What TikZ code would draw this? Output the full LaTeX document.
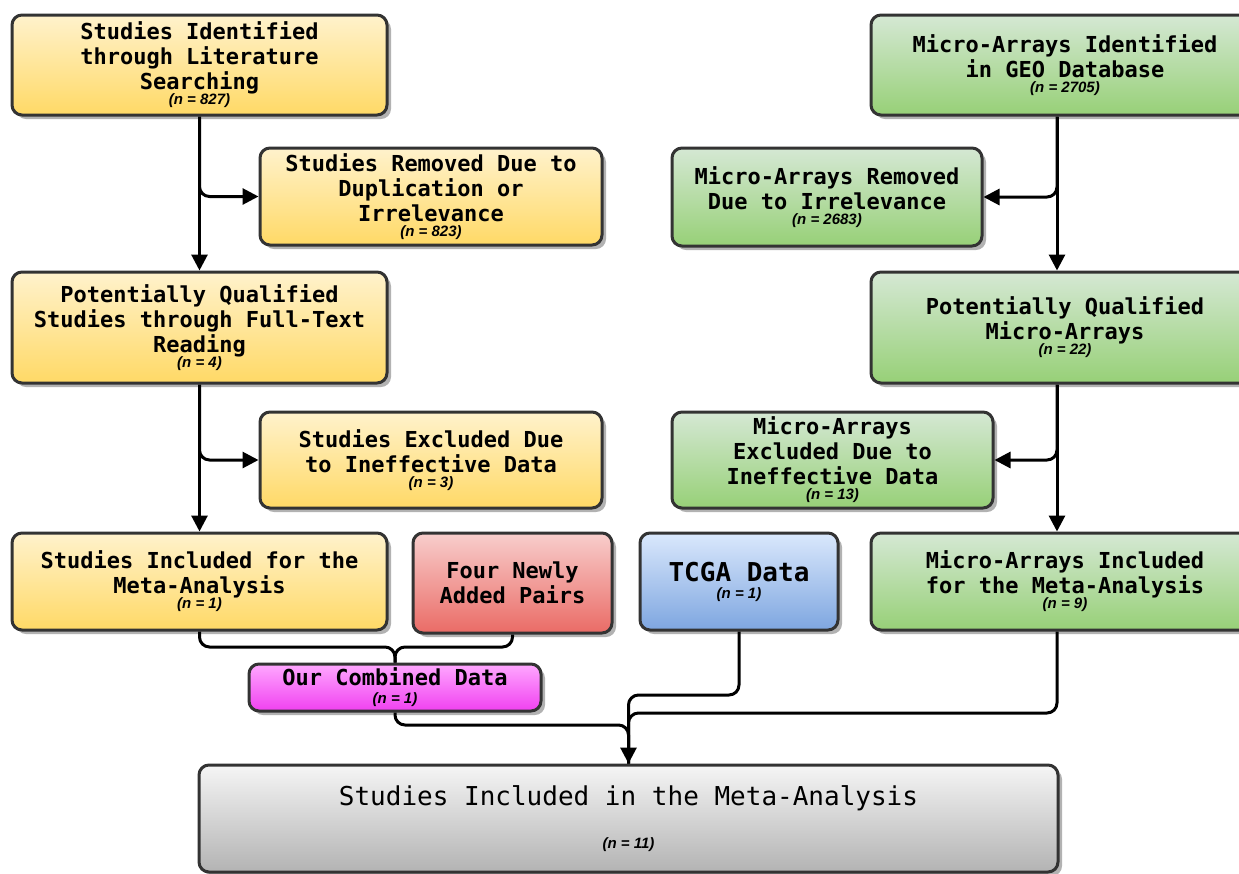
\documentclass[tikz,border=0pt]{standalone}
\usepackage{fontspec}
\setmonofont{DejaVu Sans Mono}
\newfontfamily\nfont{Liberation Sans}
\usetikzlibrary{arrows.meta,shadows}

\definecolor{edgegray}{HTML}{333333}
\definecolor{yeltop}{HTML}{FFF2CC}
\definecolor{yelbot}{HTML}{FFD966}
\definecolor{grntop}{HTML}{D5E8D4}
\definecolor{grnbot}{HTML}{97D077}
\definecolor{redtop}{HTML}{F8CECC}
\definecolor{redbot}{HTML}{EA6B66}
\definecolor{blutop}{HTML}{DAE8FC}
\definecolor{blubot}{HTML}{7EA6E0}
\definecolor{magtop}{HTML}{FFA8FF}
\definecolor{magbot}{HTML}{F040F0}
\definecolor{gratop}{HTML}{F5F5F5}
\definecolor{grabot}{HTML}{B3B3B3}

\newcommand{\ncount}[1]{{\nfont\fontsize{7.5}{8}\selectfont\bfseries\itshape(n = #1)}}

\begin{document}
\begin{tikzpicture}[
    x=0.5pt, y=-0.5pt,
    flowbox/.style={
        rectangle,
        rounded corners=5pt,
        draw=edgegray,
        line width=1.5pt,
        align=center,
        inner sep=2pt,
        font=\ttfamily\bfseries\fontsize{11}{12.5}\selectfont,
        drop shadow={shadow xshift=2pt, shadow yshift=-2pt, fill=black, opacity=.3}
    },
    dims/.style 2 args={minimum width=#1*0.5pt, minimum height=#2*0.5pt},
    ybox/.style={flowbox, top color=yeltop, bottom color=yelbot},
    gbox/.style={flowbox, top color=grntop, bottom color=grnbot},
    rbox/.style={flowbox, top color=redtop, bottom color=redbot},
    bbox/.style={flowbox, top color=blutop, bottom color=blubot},
    mbox/.style={flowbox, top color=magtop, bottom color=magbot},
    fbox/.style={flowbox, top color=gratop, bottom color=grabot},
    link/.style={line width=1.5pt, rounded corners=5pt},
    arr/.style={link, -{Triangle[length=8pt,width=8pt]}}
]
\useasboundingbox (0,0) rectangle (1239,874);

% Literature branch
\node[ybox, dims={375}{100}] (lit) at (199.5,65)
    {Studies Identified\\through Literature\\Searching\\[-5pt]\ncount{827}};
\node[ybox, dims={342}{97}] (litrem) at (431,196.5)
    {Studies Removed Due to\\Duplication or\\Irrelevance\\[-5pt]\ncount{823}};
\node[ybox, dims={375}{111}] (litqual) at (199.5,327.5)
    {Potentially Qualified\\Studies through Full-Text\\Reading\\[-5pt]\ncount{4}};
\node[ybox, dims={342}{96}] (litexc) at (431,460)
    {Studies Excluded Due\\to Ineffective Data\\[-5pt]\ncount{3}};
\node[ybox, dims={375}{97}] (litinc) at (199.5,581.5)
    {Studies Included for the\\Meta-Analysis\\[-5pt]\ncount{1}};

% Other sources
\node[rbox, dims={199}{100}] (pairs) at (512.5,583)
    {Four Newly\\Added Pairs};
\node[bbox, dims={198}{97}, font=\ttfamily\bfseries\fontsize{13}{15.5}\selectfont] (tcga) at (739,581.5)
    {TCGA Data\\[-7pt]\ncount{1}};
\node[mbox, dims={292}{45}] (comb) at (395,687.5)
    {Our Combined Data\\[-3.5pt]\ncount{1}};

% GEO branch
\node[gbox, dims={388}{100}] (geo) at (1065,65)
    {Micro-Arrays Identified\\in GEO Database\\[-5pt]\ncount{2705}};
\node[gbox, dims={310}{98}] (georem) at (827,197)
    {Micro-Arrays Removed\\Due to Irrelevance\\[-5pt]\ncount{2683}};
\node[gbox, dims={388}{111}] (geoqual) at (1065,327.5)
    {Potentially Qualified\\Micro-Arrays\\[-5pt]\ncount{22}};
\node[gbox, dims={321}{96}] (geoexc) at (832.5,460)
    {Micro-Arrays\\Excluded Due to\\Ineffective Data\\[-5pt]\ncount{13}};
\node[gbox, dims={388}{97}] (geoinc) at (1065,581.5)
    {Micro-Arrays Included\\for the Meta-Analysis\\[-5pt]\ncount{9}};

% Final
\node[fbox, dims={859}{107}, font=\ttfamily\fontsize{13}{15.5}\selectfont] (final) at (628.5,818.5)
    {Studies Included in the Meta-Analysis\\[6pt]{\fontsize{9}{10}\selectfont\ncount{11}}};

% Trunk and join points
\coordinate (rt) at (1057,0);
\coordinate (jlit) at (395,647);
\coordinate (jcomb) at (628.5,725);
\coordinate (jtcga) at (628.5,695);
\coordinate (jgeo) at (628.5,713);

% Connectors, literature
\draw[arr] (lit.south) -- (litqual.north);
\draw[arr] (lit.south) |- (litrem.west);
\draw[arr] (litqual.south) -- (litinc.north);
\draw[arr] (litqual.south) |- (litexc.west);

% Connectors, GEO
\draw[arr] (geo.south -| rt) -- (geoqual.north -| rt);
\draw[arr] (geo.south -| rt) |- (georem.east);
\draw[arr] (geoqual.south -| rt) -- (geoinc.north -| rt);
\draw[arr] (geoqual.south -| rt) |- (geoexc.east);

% Merging
\draw[link] (litinc.south) |- (jlit) -- (comb.north);
\draw[link] (pairs.south) |- (jlit) -- (comb.north);
\draw[link] (tcga.south) |- (jtcga) -- (final.north);
\draw[link] (geoinc.south -| rt) |- (jgeo) -- (final.north);
\draw[arr] (comb.south) |- (jcomb) -- (final.north);

\end{tikzpicture}
\end{document}
